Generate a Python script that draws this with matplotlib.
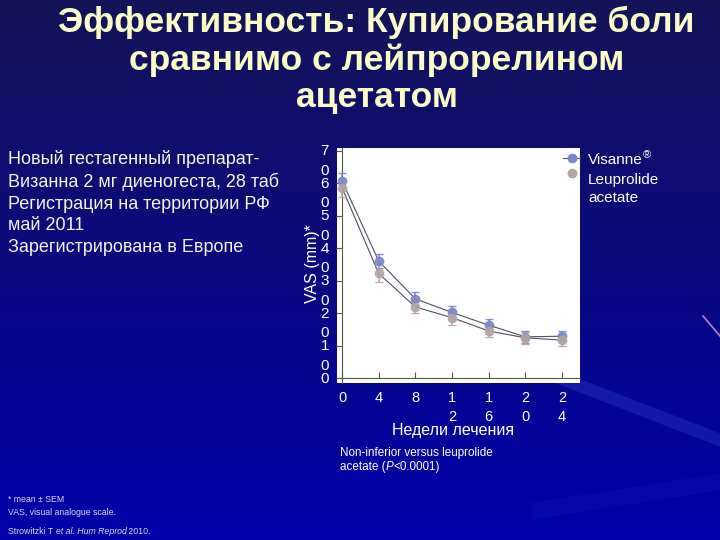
import numpy as np
import matplotlib
matplotlib.use("Agg")
import matplotlib.pyplot as plt
from matplotlib.lines import Line2D

plt.rcParams['font.family'] = ['Liberation Sans', 'DejaVu Sans']

# data (VAS, mm; mean +- SEM)
weeks = [0, 4, 8, 12, 16, 20, 24]
visanne = [60.7, 36.0, 24.4, 20.2, 16.3, 12.7, 12.9]
visanne_sem = [2.3, 2.2, 2.1, 2.0, 1.8, 1.9, 1.5]
leuprolide = [58.6, 32.2, 21.9, 18.6, 14.5, 12.4, 11.7]
leuprolide_sem = [2.8, 2.6, 2.0, 2.3, 1.8, 1.9, 1.7]

y_ticks = [0, 10, 20, 30, 40, 50, 60, 70]
x_ticks = [0, 4, 8, 12, 16, 20, 24]

title = "Эффективность: Купирование боли\nсравнимо с лейпрорелином\nацетатом"
side_text = ["Новый гестагенный препарат-",
             "Визанна 2 мг диеногеста, 28 таб",
             "Регистрация на территории РФ",
             "май 2011",
             "Зарегистрирована в Европе"]

VIS_COL = '#7c87c6'
LEU_COL = '#b4a4a6'

fig = plt.figure(figsize=(7.2, 5.4), dpi=100)

# slide background: dark blue gradient
bg = fig.add_axes([0, 0, 1, 1], zorder=-10)
grad = np.linspace(0, 1, 256).reshape(-1, 1)
top = np.array([20, 20, 88]) / 255
bot = np.array([0, 0, 170]) / 255
img = top + (bot - top) * grad[:, :, None]
bg.imshow(img, aspect='auto', extent=[0, 1, 0, 1], origin='upper')
# faint light streaks
bg.plot([565 / 720, 1.0], [1 - 380 / 540, 1 - 440 / 540], color='#3848d8', lw=9, alpha=0.3)
bg.plot([540 / 720, 1.0], [1 - 510 / 540, 1 - 482 / 540], color='#2030c8', lw=12, alpha=0.15)
bg.plot([703 / 720, 1.0], [1 - 316 / 540, 1 - 336 / 540], color='#e0a0e0', lw=1.2, alpha=0.8)
bg.set_xlim(0, 1)
bg.set_ylim(0, 1)
bg.axis('off')

fig.text(0.523, 1 - 6 / 540, title, ha='center', va='top', fontsize=25.5, fontweight='bold',
         color='#fbfbc8', linespacing=1.16)

fig.text(0.011, 1 - 150 / 540, "\n".join(side_text), ha='left', va='top', fontsize=13,
         color='#f4f4e4', linespacing=1.35)

# chart
ax = fig.add_axes([337 / 720, 1 - 383 / 540, 243 / 720, 235 / 540])
ax.set_facecolor('white')
ax.set_xlim(-0.55, 25.96)
ax.set_ylim(-1.5, 70.8)

for vals, sem, col in [(visanne, visanne_sem, VIS_COL),
                       (leuprolide, leuprolide_sem, LEU_COL)]:
    ax.plot(weeks, vals, color='#505060', lw=0.8, zorder=2)
    line, caps, bars = ax.errorbar(weeks, vals, yerr=sem, fmt='o', color=col, ms=6,
                                   mec=col, alpha=0.9, ecolor=col, elinewidth=1.2,
                                   capsize=3, capthick=1.0, zorder=3)
    for c in caps:
        c.set_color('#222222')

ax.spines['top'].set_visible(False)
ax.spines['right'].set_visible(False)
ax.spines['left'].set_position(('data', 0))
ax.spines['bottom'].set_position(('data', 0))
for s in ['left', 'bottom']:
    ax.spines[s].set_color('#555555')
    ax.spines[s].set_linewidth(0.8)

ax.set_yticks(y_ticks)
ax.set_yticklabels([])
ax.tick_params(axis='y', direction='out', length=4, color='#555555')
ax.set_xticks(x_ticks)
ax.set_xticklabels([])
ax.tick_params(axis='x', direction='in', length=4, color='#555555')

ytr = ax.get_yaxis_transform()
for v in y_ticks:
    lab = "\n".join(str(v)) if v > 0 else "0"
    ax.text(-0.05, v + 2.0, lab, transform=ytr, ha='center', va='top',
            fontsize=11, color='white', linespacing=1.5)

xtr = ax.get_xaxis_transform()
for w in x_ticks:
    lab = "\n".join(str(w))
    ax.text(w, -0.035, lab, transform=xtr, ha='center', va='top',
            fontsize=10.5, color='white', linespacing=1.45, clip_on=False)

fig.text(312 / 720, 1 - 264 / 540, "VAS (mm)*", rotation=90, ha='center', va='center',
         fontsize=11.5, color='white')
fig.text(453 / 720, 1 - 431 / 540, "Недели лечения", ha='center', va='center',
         fontsize=11.5, color='white')

# legend, laid out as on the slide
fig.add_artist(Line2D([563 / 720, 580 / 720], [1 - 158 / 540] * 2, color='#505060', lw=0.8))
fig.add_artist(Line2D([572 / 720], [1 - 158 / 540], lw=0, marker='o', ms=6,
                      mfc=VIS_COL, mec=VIS_COL))
fig.add_artist(Line2D([572 / 720], [1 - 173 / 540], lw=0, marker='o', ms=6,
                      mfc=LEU_COL, mec=LEU_COL))
vis_txt = fig.text(588 / 720, 1 - 164 / 540, "Visanne", fontsize=11, color='white',
                   va='baseline')
fig.canvas.draw()
vb = vis_txt.get_window_extent(renderer=fig.canvas.get_renderer())
fig.text(vb.x1 / fig.bbox.width, 1 - 158 / 540, "®", fontsize=8, color='white',
         va='baseline')
fig.text(588 / 720, 1 - 180 / 540, "Leuprolide", fontsize=11, color='white', va='center')
fig.text(588 / 720, 1 - 198 / 540, "acetate", fontsize=11, color='white', va='center')


def rich_line(x, y, parts, size, color):
    # draw text pieces one after another, some of them italic
    fig.canvas.draw()
    r = fig.canvas.get_renderer()
    for txt, style in parts:
        t = fig.text(x, y, txt, fontsize=size, color=color, style=style,
                     ha='left', va='baseline')
        bb = t.get_window_extent(renderer=r)
        x += bb.width / fig.bbox.width


fig.text(340 / 720, 1 - 456 / 540, "Non-inferior versus leuprolide", fontsize=8.4,
         color='white', va='baseline')
rich_line(340 / 720, 1 - 470 / 540, [("acetate (", 'normal'), ("P", 'italic'),
                                     ("<0.0001)", 'normal')], 8.4, 'white')

fig.text(8 / 720, 1 - 502 / 540, "* mean ± SEM", fontsize=6.3, color='#d8d8e8', va='baseline')
fig.text(8 / 720, 1 - 515 / 540, "VAS, visual analogue scale.", fontsize=6.3,
         color='#d8d8e8', va='baseline')
rich_line(8 / 720, 1 - 534 / 540, [("Strowitzki T ", 'normal'), ("et al. Hum Reprod", 'italic'),
                                   (" 2010.", 'normal')], 6.3, '#d8d8e8')

fig.savefig("out.png", dpi=100)
